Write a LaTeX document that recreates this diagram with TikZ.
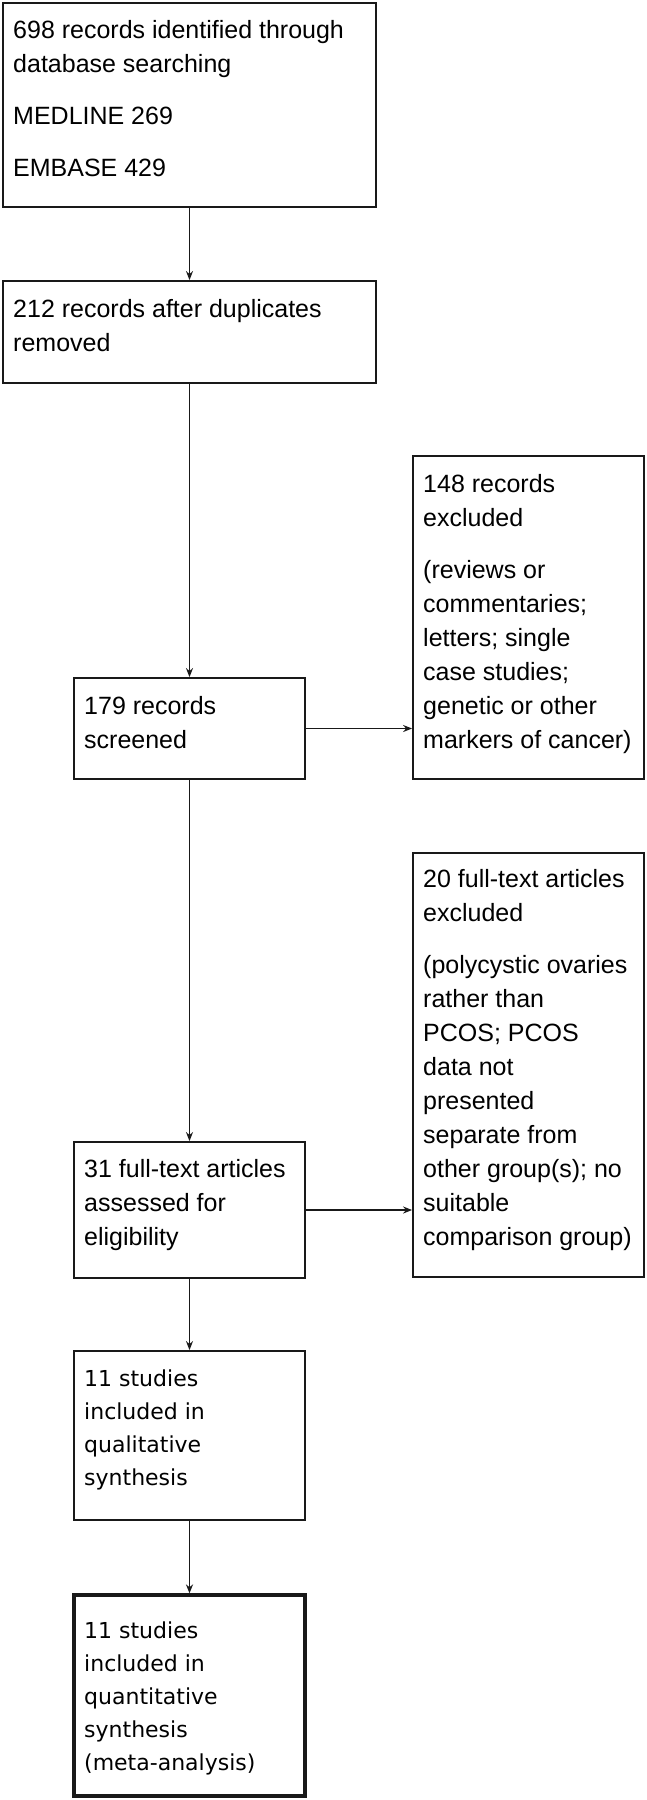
\documentclass[tikz,border=0pt]{standalone}
\usepackage{fontspec}
\setmainfont{Liberation Sans}
\newfontfamily\verd{DejaVu Sans}
\usetikzlibrary{arrows.meta,shapes.misc}
\begin{document}
\begin{tikzpicture}[x=1pt,y=-1pt,
  box/.style={chamfered rectangle, chamfered rectangle xsep=4pt, chamfered rectangle ysep=4pt,
    draw=black!90, line width=1.8pt, inner sep=0pt, minimum width=231pt},
  wide/.style={box, minimum width=373pt},
  txt/.style={anchor=north west, inner sep=0pt, align=left, font=\fontsize{25}{34}\selectfont},
  vtxt/.style={anchor=north west, inner sep=0pt, align=left, font=\verd\fontsize{22}{33}\selectfont},
  arr/.style={draw=black!90, line width=1.7pt, -{Stealth[length=9pt,width=7pt]}}]
\useasboundingbox (0,0) rectangle (647,1800);
% boxes
\node[wide, minimum height=204pt] (b1) at (189.5,105) {};
\node[wide, minimum height=102pt] (b2) at (189.5,332) {};
\node[box, minimum height=101pt] (b3) at (189.5,728.5) {};
\node[box, minimum height=323pt] (b4) at (528.5,617.5) {};
\node[box, minimum height=136pt] (b5) at (189.5,1210) {};
\node[box, minimum height=424pt] (b6) at (528.5,1065) {};
\node[box, minimum height=169pt] (b7) at (189.5,1435.5) {};
\node[box, minimum height=201pt, line width=3.2pt] (b8) at (189.5,1695.5) {};
% texts (first baseline minus ascender height)
\node[txt] (t1) at (13,20) {698 records identified through\\database searching\\[18pt]MEDLINE 269\\[18pt]EMBASE 429};
\node[txt] (t2) at (13,299) {212 records after duplicates\\removed};
\node[txt] (t3) at (84,696) {179 records\\screened};
\node[txt] (t4) at (423,474) {148 records\\excluded\\[18pt](reviews or\\commentaries;\\letters; single\\case studies;\\genetic or other\\markers of cancer)};
\node[txt] (t5) at (84,1159) {31 full-text articles\\assessed for\\eligibility};
\node[txt] (t6) at (423,869) {20 full-text articles\\excluded\\[18pt](polycystic ovaries\\rather than\\PCOS; PCOS\\data not\\presented\\separate from\\other group(s); no\\suitable\\comparison group)};
\node[vtxt] (t7) at (84,1370) {11 studies\\included in\\qualitative\\synthesis};
\node[vtxt] (t8) at (84,1622) {11 studies\\included in\\quantitative\\synthesis\\(meta-analysis)};
% connectors
\draw[arr] (b1) -- (b2);
\draw[arr] (b2) -- (b3);
\draw[arr] (b3) -- (b4.west |- b3.east);
\draw[arr] (b3) -- (b5);
\draw[arr] (b5) -- (b6.west |- b5.east);
\draw[arr] (b5) -- (b7);
\draw[arr] (b7) -- (b8);
\end{tikzpicture}
\end{document}
